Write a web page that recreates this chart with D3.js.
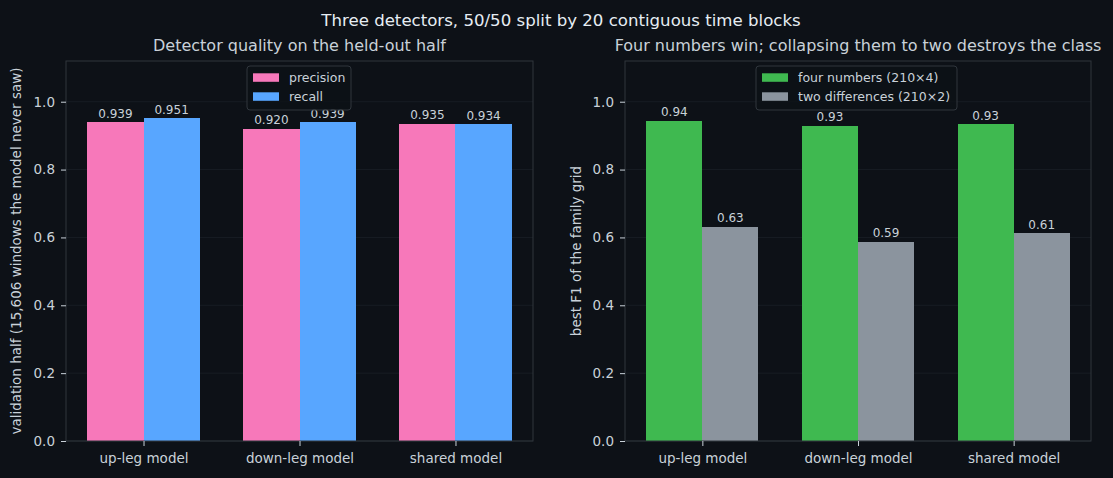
<!DOCTYPE html>
<html>
<head>
<meta charset="utf-8">
<script src="https://cdn.jsdelivr.net/npm/d3@7"></script>
<style>
  html, body { margin: 0; padding: 0; background: #0d1117; }
  svg { display: block; font-family: 'DejaVu Sans', sans-serif; }
</style>
</head>
<body>
<svg id="chart" width="1113" height="478"></svg>
<script>
// Data
var categories = ['up-leg model', 'down-leg model', 'shared model']
var precision = [0.939, 0.920, 0.935]
var recall = [0.951, 0.939, 0.934]
var fourNumbers = [0.944, 0.929, 0.933]
var twoDifferences = [0.632, 0.588, 0.612]
var yTicks = [0.0, 0.2, 0.4, 0.6, 0.8, 1.0]

var width = 1113
var height = 478
var bg = '#0d1117'
var textColor = '#c9d1d9'
var spineColor = '#30363d'
var gridColor = '#1a1f27'

// Panel positions
var panelTop = 61
var panelBottom = 441
var barWidth = 0.36

var svg = d3.select('#chart')

svg.append('rect')
  .attr('width', width)
  .attr('height', height)
  .attr('fill', bg)

svg.append('text')
  .attr('x', 561)
  .attr('y', 26)
  .attr('text-anchor', 'middle')
  .attr('fill', '#e6edf3')
  .style('font-size', '16.6px')
  .text('Three detectors, 50/50 split by 20 contiguous time blocks')

/**
 * Draws one grouped bar panel
 */
function drawPanel (opts) {
  var x = d3.scaleLinear()
    .domain([-0.497, categories.length - 1 + 0.497])
    .range([opts.left, opts.right])
  var y = d3.scaleLinear()
    .domain([0, 1.12])
    .range([panelBottom, panelTop])

  var g = svg.append('g')

  // grid
  g.selectAll('.grid')
    .data(yTicks)
    .enter()
    .append('line')
    .attr('x1', opts.left)
    .attr('x2', opts.right)
    .attr('y1', function (d) { return y(d) })
    .attr('y2', function (d) { return y(d) })
    .attr('stroke', gridColor)
    .attr('stroke-width', 0.8)

  // bars
  opts.series.forEach(function (s, si) {
    var offset = si === 0 ? -barWidth / 2 : barWidth / 2
    g.selectAll('.bar' + si)
      .data(s.values)
      .enter()
      .append('rect')
      .attr('x', function (d, i) { return x(i + offset - barWidth / 2) })
      .attr('width', x(barWidth) - x(0))
      .attr('y', function (d) { return y(d) })
      .attr('height', function (d) { return y(0) - y(d) })
      .attr('fill', s.color)
      .attr('shape-rendering', 'crispEdges')

    g.selectAll('.lab' + si)
      .data(s.values)
      .enter()
      .append('text')
      .attr('x', function (d, i) { return x(i + offset) })
      .attr('y', function (d) { return y(d) - 4.5 })
      .attr('text-anchor', 'middle')
      .attr('fill', textColor)
      .style('font-size', '12px')
      .text(function (d) { return d.toFixed(opts.digits) })
  })

  // spines
  g.append('rect')
    .attr('x', opts.left)
    .attr('y', panelTop)
    .attr('width', opts.right - opts.left)
    .attr('height', panelBottom - panelTop)
    .attr('fill', 'none')
    .attr('stroke', spineColor)
    .attr('stroke-width', 1)

  // y axis
  var yAxis = g.append('g')
    .attr('transform', 'translate(' + opts.left + ',0)')
    .call(d3.axisLeft(y).tickValues(yTicks).tickFormat(d3.format('.1f')).tickSize(5).tickPadding(6))
  // x axis
  var xAxis = g.append('g')
    .attr('transform', 'translate(0,' + panelBottom + ')')
    .call(d3.axisBottom(x).tickValues(d3.range(categories.length))
      .tickFormat(function (d) { return categories[d] }).tickSize(5).tickPadding(7))
  ;[yAxis, xAxis].forEach(function (a) {
    a.select('.domain').remove()
    a.selectAll('line').attr('stroke', textColor)
    a.selectAll('text')
      .attr('fill', textColor)
      .style('font-family', 'DejaVu Sans, sans-serif')
      .style('font-size', '13.5px')
  })

  // y label
  svg.append('text')
    .attr('transform', 'translate(' + opts.ylabelX + ',' + (panelTop + panelBottom) / 2 + ') rotate(-90)')
    .attr('text-anchor', 'middle')
    .attr('dy', '0.35em')
    .attr('fill', textColor)
    .style('font-size', '13.5px')
    .text(opts.ylabel)

  // title
  svg.append('text')
    .attr('x', (opts.left + opts.right) / 2)
    .attr('y', 51)
    .attr('text-anchor', 'middle')
    .attr('fill', textColor)
    .style('font-size', '16px')
    .text(opts.title)

  // legend
  var legend = svg.append('g')
    .attr('transform', 'translate(' + opts.legendX + ',66)')
  legend.append('rect')
    .attr('width', opts.legendW)
    .attr('height', 44)
    .attr('rx', 3)
    .attr('fill', bg)
    .attr('fill-opacity', 0.8)
    .attr('stroke', spineColor)
  legend.selectAll('.item')
    .data(opts.series)
    .enter()
    .append('g')
    .attr('transform', function (d, i) { return 'translate(6,' + (7.3 + i * 19) + ')' })
    .each(function (d) {
      var item = d3.select(this)
      item.append('rect')
        .attr('width', 26)
        .attr('height', 8.5)
        .attr('fill', d.color)
      item.append('text')
        .attr('x', 36)
        .attr('y', 8.5)
        .attr('fill', textColor)
        .style('font-size', '12.5px')
        .text(d.name)
    })
}

drawPanel({
  left: 66,
  right: 533,
  title: 'Detector quality on the held-out half',
  ylabel: 'validation half (15,606 windows the model never saw)',
  ylabelX: 16,
  digits: 3,
  legendX: 247,
  legendW: 104,
  series: [
    { name: 'precision', values: precision, color: '#f778ba' },
    { name: 'recall', values: recall, color: '#58a6ff' }
  ]
})

drawPanel({
  left: 625,
  right: 1091,
  title: 'Four numbers win; collapsing them to two destroys the class',
  ylabel: 'best F1 of the family grid',
  ylabelX: 576,
  digits: 2,
  legendX: 756,
  legendW: 201,
  series: [
    { name: 'four numbers (210×4)', values: fourNumbers, color: '#3fb950' },
    { name: 'two differences (210×2)', values: twoDifferences, color: '#8b949e' }
  ]
})
</script>
</body>
</html>
